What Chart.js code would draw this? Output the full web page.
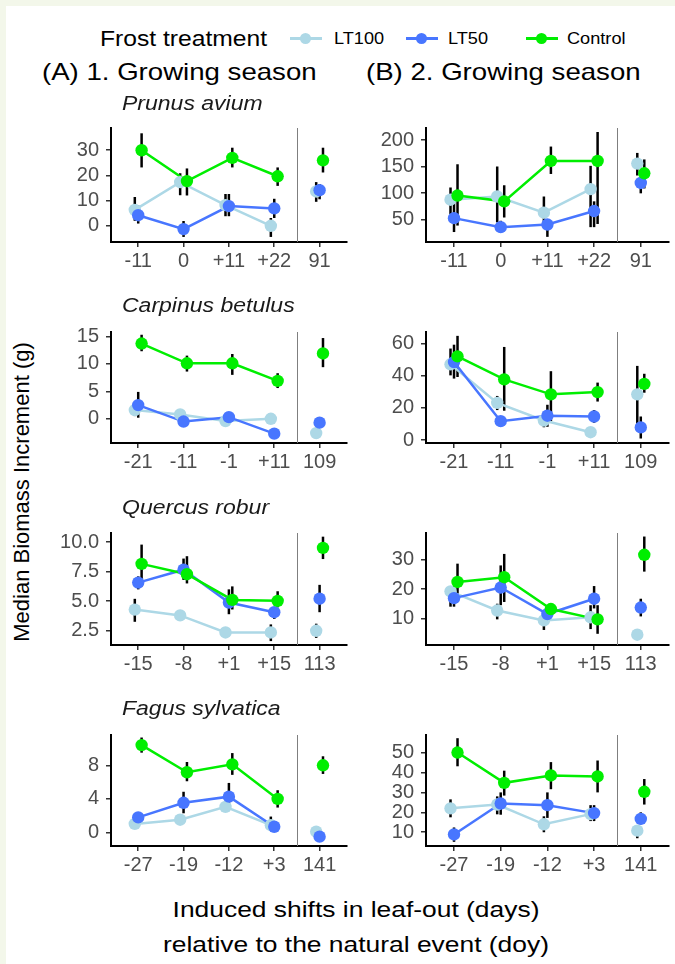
<!DOCTYPE html>
<html>
<head>
<meta charset="utf-8">
<script src="https://cdn.jsdelivr.net/npm/chart.js@4.4.0/dist/chart.umd.min.js"></script>
<style>
html, body { margin: 0; padding: 0; }
body { width: 675px; height: 964px; background: #f3f7ea; position: relative; overflow: hidden;
       font-family: "Liberation Sans", Arial, sans-serif; }
#page { position: absolute; left: 6px; top: 6px; right: 0; bottom: 0; background: #fff; }
.txt { position: absolute; white-space: nowrap; color: #000; transform-origin: left center; }
.key { position: absolute; width: 32px; height: 3px; }
.key span { position: absolute; left: 10px; top: -4px; width: 11px; height: 11px; border-radius: 50%; }
canvas { position: absolute; }
</style>
</head>
<body>
<div id="page"></div>

<div class="txt" style="left:100px;top:26px;font-size:22px;transform:scaleX(1.12)">Frost treatment</div>
<div class="key" style="left:290px;top:37px;background:#add8e6"><span style="background:#add8e6"></span></div>
<div class="txt" style="left:334px;top:29px;font-size:16.5px;transform:scaleX(1.1)">LT100</div>
<div class="key" style="left:406px;top:37px;background:#4876ff"><span style="background:#4876ff"></span></div>
<div class="txt" style="left:448px;top:29px;font-size:16.5px;transform:scaleX(1.1)">LT50</div>
<div class="key" style="left:526px;top:37px;background:#00ee00"><span style="background:#00ee00"></span></div>
<div class="txt" style="left:567px;top:29px;font-size:16.5px;transform:scaleX(1.1)">Control</div>

<div class="txt" style="left:42px;top:58px;font-size:24px;transform:scaleX(1.15)">(A) 1. Growing season</div>
<div class="txt" style="left:366px;top:58px;font-size:24px;transform:scaleX(1.15)">(B) 2. Growing season</div>

<div class="txt" style="left:22px;top:492px;font-size:22px;transform:translate(-50%,-50%) rotate(-90deg);transform-origin:center">Median Biomass Increment (g)</div>
<div class="txt" style="left:356px;top:910px;font-size:22px;transform:translate(-50%,-50%) scaleX(1.2);transform-origin:center">Induced shifts in leaf-out (days)</div>
<div class="txt" style="left:356px;top:945px;font-size:22px;transform:translate(-50%,-50%) scaleX(1.2);transform-origin:center">relative to the natural event (doy)</div>

<div id="panels"></div>

<script>
const treatments = ['LT100', 'LT50', 'Control'];
const treatmentColors = ['#add8e6', '#4876ff', '#00ee00'];
const speciesNames = ['Prunus avium', 'Carpinus betulus', 'Quercus robur', 'Fagus sylvatica'];

// leaf-out shift labels (days), last one is the natural event (doy)
const prunusShifts = ['-11', '0', '+11', '+22', '91'];
const carpinusShifts = ['-21', '-11', '-1', '+11', '109'];
const quercusShifts = ['-15', '-8', '+1', '+15', '113'];
const fagusShifts = ['-27', '-19', '-12', '+3', '141'];

// medians per treatment [LT100, LT50, Control], low/high = error bar ends
const prunusS1Median = [[6.3, 17.3, 8.2, 0, 13.6], [4.2, -1.3, 7.8, 6.9, 14.1], [29.9, 17.7, 26.9, 19.6, 25.9]];
const prunusS1Low = [[2, 12.1, 3.8, -4.4, 9.5], [0.9, -4.4, 3.8, 3.1, 10.5], [23.1, 12, 23.1, 15.8, 21.1]];
const prunusS1High = [[11.4, 20.8, 12.6, 3.1, 17.3], [8, 1.9, 12.6, 10.7, 16.5], [36.6, 22.7, 30.9, 23.1, 30.9]];

const prunusS2Median = [[87.8, 93.8, 63.3, 107.8, 155.9], [53, 36, 40.9, 66.4, 119.4], [95.6, 84.7, 160.8, 160.8, 137.6]];
const prunusS2Low = [[60.4, 45, 36, 36, 133.4], [26.8, 28, 17.7, 36, 99.8], [39, 54.2, 136.3, 42, 109]];
const prunusS2High = [[110.8, 150.4, 93.8, 151.6, 176], [90.7, 48, 48, 84.7, 127.2], [154.6, 115, 188, 215.5, 163.7]];

const carpinusS1Median = [[1.6, 0.8, -0.4, 0, -2.6], [2.5, -0.5, 0.3, -2.7, -0.7], [13.7, 10.1, 10.1, 6.9, 11.9]];
const carpinusS1Low = [[0.5, 0.3, -0.9, -0.4, -3], [0.2, -1, -0.3, -3.2, -1.3], [12.3, 8.6, 8, 5.6, 9.4]];
const carpinusS1High = [[3, 1.3, 0.1, 0.4, -2.2], [4.9, 0, 0.9, -2.2, -0.1], [15.3, 11.5, 11.8, 8.3, 14.7]];

const carpinusS2Median = [[47.2, 23.2, 12.2, 4.9, 28.5], [48.6, 11.8, 15.2, 14.7, 7.9], [52.1, 37.8, 28.5, 29.9, 35]];
const carpinusS2Low = [[40.3, 18.7, 8, 3, 9.8], [38.3, 9, 8.3, 10.8, 1], [39.3, 18.3, 11.8, 24, 29.5]];
const carpinusS2High = [[57, 27.5, 14, 6, 46.2], [59.4, 15, 22, 18.7, 14.7], [64.9, 58, 42.9, 35.8, 41.3]];

const quercusS1Median = [[4.29, 3.8, 2.36, 2.36, 2.5], [6.57, 7.66, 4.89, 4.07, 5.21], [8.15, 7.28, 5.11, 5.03, 9.5]];
const quercusS1Low = [[3.26, 3.4, 2.1, 1.63, 1.9], [6.0, 6.8, 3.9, 3.5, 4.07], [6.25, 6.5, 4.3, 4.48, 8.56]];
const quercusS1High = [[5.2, 4.2, 2.6, 3.04, 3.1], [7.1, 8.6, 6.0, 4.5, 6.38], [9.78, 8.8, 6.25, 5.84, 10.45]];

const quercusS2Median = [[19.2, 12.7, 9.35, 10.4, 4.5], [16.9, 20.5, 11.5, 16.7, 13.7], [22.4, 24, 13.2, 9.7, 31.6]];
const quercusS2Low = [[14, 9.7, 6.1, 6.4, 3.5], [14, 14.5, 9, 13.4, 10.7], [16.9, 15.6, 11.5, 4.8, 25.9]];
const quercusS2High = [[21, 15, 11.3, 14.5, 5.5], [21, 28, 14, 21, 16.7], [28.6, 31.9, 15, 14.5, 37.8]];

const fagusS1Median = [[1.03, 1.53, 3.05, 0.88, 0.11], [1.8, 3.54, 4.27, 0.69, -0.49], [10.4, 7.17, 8.11, 4, 8]];
const fagusS1Low = [[0.8, 1.2, 2.7, 0.2, -0.1], [1.4, 2.29, 3.05, 0.3, -0.8], [9.5, 6.1, 6.86, 2.97, 6.97]];
const fagusS1High = [[1.3, 1.9, 3.5, 1.9, 0.3], [2.3, 4.85, 5.9, 1.2, -0.2], [11.3, 8.39, 9.45, 5.03, 9.07]];

const fagusS2Median = [[22, 23.9, 14, 19.1, 10.8], [8.9, 24.4, 23.6, 19.6, 16.7], [50, 34.8, 38.5, 38, 30.3]];
const fagusS2Low = [[17.5, 19, 10, 15.6, 7], [5.2, 18.8, 17.2, 15.6, 14], [43.1, 28.4, 31.6, 30, 23.9]];
const fagusS2High = [[26.5, 28, 18, 23.6, 12], [12.4, 30, 30, 23.6, 20], [57.2, 40.9, 45.2, 46, 36.7]];

// y tick values per panel
const prunusS1Ticks = [0, 10, 20, 30];
const prunusS2Ticks = [50, 100, 150, 200];
const carpinusS1Ticks = [0, 5, 10, 15];
const carpinusS2Ticks = [0, 20, 40, 60];
const quercusS1Ticks = [2.5, 5, 7.5, 10];
const quercusS2Ticks = [10, 20, 30];
const fagusS1Ticks = [0, 4, 8];
const fagusS2Ticks = [10, 20, 30, 40, 50];

const panels = [
  {row: 0, col: 0, shifts: prunusShifts, med: prunusS1Median, low: prunusS1Low, high: prunusS1High, ticks: prunusS1Ticks, ymin: -6.4, ymax: 38.7},
  {row: 0, col: 1, shifts: prunusShifts, med: prunusS2Median, low: prunusS2Low, high: prunusS2High, ticks: prunusS2Ticks, ymin: 8, ymax: 223},
  {row: 1, col: 0, shifts: carpinusShifts, med: carpinusS1Median, low: carpinusS1Low, high: carpinusS1High, ticks: carpinusS1Ticks, ymin: -4.4, ymax: 15.8},
  {row: 1, col: 1, shifts: carpinusShifts, med: carpinusS2Median, low: carpinusS2Low, high: carpinusS2High, ticks: carpinusS2Ticks, ymin: -1.8, ymax: 67.3},
  {row: 2, col: 0, shifts: quercusShifts, med: quercusS1Median, low: quercusS1Low, high: quercusS1High, ticks: quercusS1Ticks, ymin: 1.3, ymax: 10.76},
  {row: 2, col: 1, shifts: quercusShifts, med: quercusS2Median, low: quercusS2Low, high: quercusS2High, ticks: quercusS2Ticks, ymin: 1, ymax: 39},
  {row: 3, col: 0, shifts: fagusShifts, med: fagusS1Median, low: fagusS1Low, high: fagusS1High, ticks: fagusS1Ticks, ymin: -1.6, ymax: 11.6},
  {row: 3, col: 1, shifts: fagusShifts, med: fagusS2Median, low: fagusS2Low, high: fagusS2High, ticks: fagusS2Ticks, ymin: 3.1, ymax: 58.8}
];

// plot area placement on the page
const colLeft = [111, 426], colRight = [350, 672];
const rowTop = [123, 327, 528, 730], rowBottom = [242, 443, 645, 846];
const titleTop = [103, 305, 507, 708];
const Y_AXIS_W = 60, X_AXIS_H = 34, PAD_TOP = 14, PAD_RIGHT = 3;
const dodge = [-0.075, 0, 0.075];

Chart.defaults.font.family = "'Liberation Sans', Arial, sans-serif";

const panelDecor = {
  id: 'panelDecor',
  beforeDatasetsDraw(chart) {
    const {ctx, chartArea, scales} = chart;
    const p = chart.options.plugins.panelDecor;
    const sx = Math.round(scales.x.getPixelForValue(4.5)) + 0.5;
    ctx.save();
    ctx.strokeStyle = '#7f7f7f';
    ctx.lineWidth = 1;
    ctx.beginPath();
    ctx.moveTo(sx, chartArea.top);
    ctx.lineTo(sx, chartArea.bottom);
    ctx.stroke();
    ctx.strokeStyle = '#000';
    ctx.lineWidth = 2.5;
    p.low.forEach((lows, t) => {
      lows.forEach((lo, i) => {
        const x = scales.x.getPixelForValue(i + 1 + dodge[t]);
        ctx.beginPath();
        ctx.moveTo(x, scales.y.getPixelForValue(lo));
        ctx.lineTo(x, scales.y.getPixelForValue(p.high[t][i]));
        ctx.stroke();
      });
    });
    ctx.restore();
  }
};

const holder = document.getElementById('panels');

panels.forEach(p => {
  if (p.col === 0) {
    const t = document.createElement('div');
    t.className = 'txt';
    t.style.cssText = 'left:122px;top:' + titleTop[p.row] + 'px;font-size:19.5px;font-style:italic;color:#1a1a1a;transform:translateY(-50%) scaleX(1.18)';
    t.textContent = speciesNames[p.row];
    document.body.appendChild(t);
  }
  const cv = document.createElement('canvas');
  const w = Y_AXIS_W + (colRight[p.col] - colLeft[p.col]) + PAD_RIGHT;
  const h = PAD_TOP + (rowBottom[p.row] - rowTop[p.row]) + X_AXIS_H;
  cv.width = w; cv.height = h;
  cv.style.left = (colLeft[p.col] - Y_AXIS_W) + 'px';
  cv.style.top = (rowTop[p.row] - PAD_TOP) + 'px';
  cv.style.width = w + 'px'; cv.style.height = h + 'px';
  holder.appendChild(cv);

  const datasets = [];
  // lines for the shifted treatments (not the natural event)
  treatments.forEach((name, t) => {
    datasets.push({
      label: name,
      data: p.med[t].slice(0, 4).map((v, i) => ({x: i + 1 + dodge[t], y: v})),
      borderColor: treatmentColors[t],
      borderWidth: 2.5,
      pointRadius: 0,
      fill: false,
      order: 12 - t
    });
  });
  treatments.forEach((name, t) => {
    datasets.push({
      label: name,
      data: p.med[t].map((v, i) => ({x: i + 1 + dodge[t], y: v})),
      showLine: false,
      pointRadius: 6.2,
      pointBorderWidth: 0,
      pointBackgroundColor: treatmentColors[t],
      borderColor: treatmentColors[t],
      order: 2 - t
    });
  });

  const decimals = p.ticks.some(v => !Number.isInteger(v)) ? 1 : 0;

  new Chart(cv.getContext('2d'), {
    type: 'line',
    data: {datasets: datasets},
    plugins: [panelDecor],
    options: {
      responsive: false,
      animation: false,
      devicePixelRatio: 1,
      layout: {padding: {top: PAD_TOP, right: PAD_RIGHT, left: 0, bottom: 0}},
      plugins: {
        legend: {display: false},
        tooltip: {enabled: false},
        panelDecor: {low: p.low, high: p.high}
      },
      scales: {
        x: {
          type: 'linear',
          min: 0.4,
          max: 5.6,
          afterBuildTicks: axis => { axis.ticks = [1, 2, 3, 4, 5].map(v => ({value: v})); },
          afterFit: scale => { scale.height = X_AXIS_H; },
          border: {display: true, color: '#000', width: 2},
          grid: {display: true, drawOnChartArea: false, drawTicks: true, tickLength: 5, color: '#333', lineWidth: 1.5},
          ticks: {
            autoSkip: false,
            maxRotation: 0,
            padding: 2,
            color: '#4d4d4d',
            font: {size: 20},
            callback: v => p.shifts[v - 1]
          }
        },
        y: {
          min: p.ymin,
          max: p.ymax,
          afterBuildTicks: axis => { axis.ticks = p.ticks.map(v => ({value: v})); },
          afterFit: scale => { scale.width = Y_AXIS_W; },
          border: {display: true, color: '#000', width: 2},
          grid: {display: true, drawOnChartArea: false, drawTicks: true, tickLength: 5, color: '#333', lineWidth: 1.5},
          ticks: {
            autoSkip: false,
            padding: 7,
            color: '#4d4d4d',
            font: {size: 20},
            callback: v => v.toFixed(decimals)
          }
        }
      }
    }
  });
});
</script>
</body>
</html>
